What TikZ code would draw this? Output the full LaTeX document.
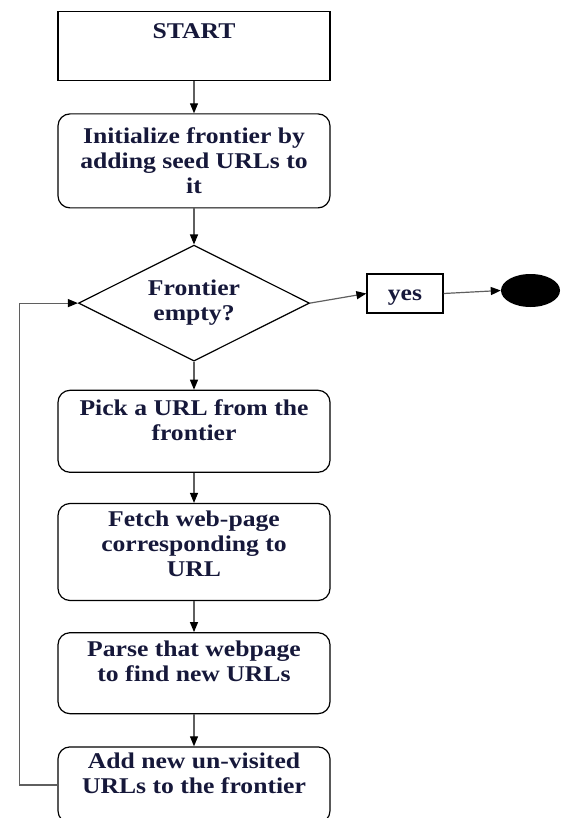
\documentclass[tikz,border=0pt]{standalone}
\usepackage{fontspec}
\setmainfont[FakeStretch=1.14]{Liberation Serif}
\usepackage{xcolor}
\usetikzlibrary{positioning}
\usetikzlibrary{arrows.meta}
\usetikzlibrary{shapes.geometric}
\definecolor{ink2}{RGB}{22, 24, 58}
\definecolor{shaft2}{RGB}{95, 95, 95}
\def\boxfont{\fontsize{22.5}{25}\selectfont\bfseries}
\tikzset{
thickline/.style={line width=1.2pt},
lift/.style={text depth=#1},
stepbox/.style={draw, rounded corners=12pt, thickline, minimum width=272pt,
	inner sep=0pt, align=center, text=ink2, font=\boxfont},
startbox/.style={draw, thickline, minimum width=272pt, inner ysep=0pt,
	text height=27pt, text depth=42pt, text=ink2, font=\boxfont},
decision/.style={draw, diamond, aspect=2, thickline, minimum width=231pt,
	minimum height=116pt, inner sep=0pt, align=center, text=ink2, font=\boxfont},
flow/.style={draw=shaft2, thickline, -{Triangle[length=10pt, width=8pt, black]}},
}

\begin{document}
\begin{tikzpicture}[x=1pt, y=1pt]
\tikzstyle{yesbox}=[draw, thickline, minimum width=76pt, minimum height=39pt,
	inner sep=0pt, text height=18.5pt, text=ink2, font=\boxfont]
\tikzstyle{stopnode}=[ellipse, fill=black, minimum width=59pt, minimum height=33pt, inner sep=0pt]
\useasboundingbox (0,0) rectangle (565,-818);
%Place the nodes
\node[startbox] (start) at (194,-46.2) {START};
\node[stepbox, minimum height=94pt, below=32pt of start] (init) {Initialize frontier by\\adding seed URLs to\\it};
\node[decision, below=36pt of init] (dec) {Frontier\\empty?};
\node[stepbox, minimum height=82pt, lift=23pt, below=28pt of dec] (pick) {Pick a URL from the\\frontier};
\node[stepbox, minimum height=97pt, lift=17pt, below=30pt of pick] (fetch) {Fetch web-page\\corresponding to\\URL};
\node[stepbox, minimum height=81pt, lift=25pt, below=31pt of fetch] (parse) {Parse that webpage\\to find new URLs};
\node[stepbox, minimum height=76pt, lift=23pt, below=32pt of parse] (add) {Add new un-visited\\URLs to the frontier};
\node[yesbox] (yes) at (405,-293.5) {yes};
\node[stopnode] (stop) at (530.5,-290.5) {};

%
\draw[flow] (start) to (init);
\draw[flow] (init) to (dec);
\draw[flow] (dec) to (pick);
\draw[flow] (pick) to (fetch);
\draw[flow] (fetch) to (parse);
\draw[flow] (parse) to (add);

%
\draw[flow] (dec.east) to (yes.west);
\draw[flow] (yes.east) to (stop.west);

% back to the test
\draw[flow] (add.west) -- ([xshift=-38pt]add.west) |- (dec.west);

\end{tikzpicture}
\end{document}
